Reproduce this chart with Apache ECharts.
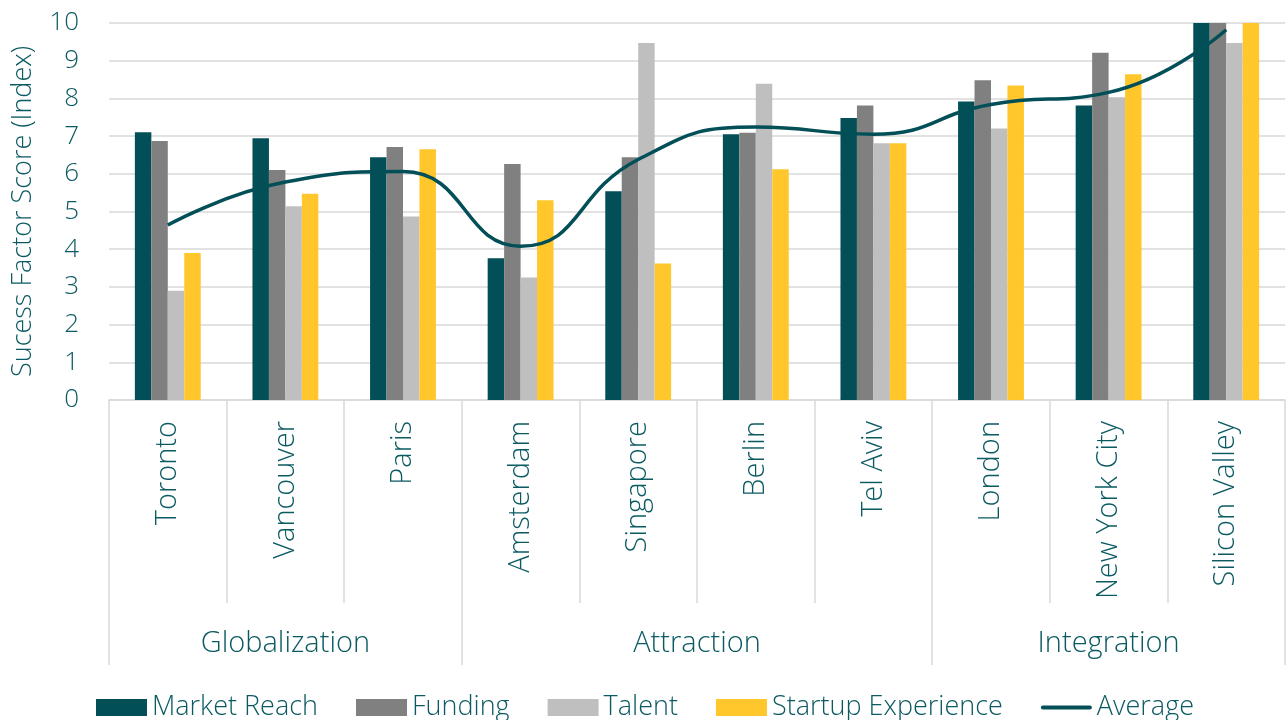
<!DOCTYPE html>
<html>
<head>
<meta charset="utf-8">
<script src="https://cdn.jsdelivr.net/npm/echarts@6/dist/echarts.min.js"></script>
<style>html,body{margin:0;padding:0;background:#fff;}#c{width:1287px;height:720px;}</style>
</head>
<body>
<div id="c"></div>
<script>
const cities = ['Toronto','Vancouver','Paris','Amsterdam','Singapore','Berlin','Tel Aviv','London','New York City','Silicon Valley'];
const groups = ['Globalization','Attraction','Integration'];
const groupSizes = [3,4,3];
const marketReach = [7.10, 6.94, 6.44, 3.76, 5.54, 7.05, 7.48, 7.92, 7.81, 10.0];
const funding     = [6.87, 6.10, 6.71, 6.26, 6.44, 7.09, 7.81, 8.48, 9.21, 10.0];
const talent      = [2.90, 5.14, 4.87, 3.25, 9.47, 8.39, 6.81, 7.20, 8.03, 9.47];
const startupExp  = [3.90, 5.47, 6.65, 5.30, 3.62, 6.12, 6.81, 8.34, 8.64, 10.0];
const average     = [4.64, 5.78, 6.06, 4.08, 6.38, 7.24, 7.05, 7.84, 8.16, 9.82];
const yTicks = [0,1,2,3,4,5,6,7,8,9,10];

const TEXT = '#0b5a62';
const GRID = '#d9d9d9';
const FONT = "'Open Sans', sans-serif";

// group boundaries and centres, in category units
const bounds = [0];
groupSizes.forEach(s => bounds.push(bounds[bounds.length-1] + s));
const centers = groups.map((g,i) => (bounds[i] + bounds[i+1]) / 2);

const chart = echarts.init(document.getElementById('c'), null, {renderer:'canvas'});
chart.setOption({
  animation: false,
  textStyle: {fontFamily: FONT},
  grid: {left: 109, right: 2, top: 23, bottom: 320, containLabel: false},
  legend: {
    left: 91, top: 689,
    itemWidth: 51, itemHeight: 17, itemGap: 38,
    textStyle: {fontSize: 27, color: TEXT, fontFamily: FONT, fontWeight: 300},
    data: [
      {name:'Market Reach', icon:'rect'},
      {name:'Funding', icon:'rect'},
      {name:'Talent', icon:'rect'},
      {name:'Startup Experience', icon:'rect'},
      {name:'Average', icon:'path://M2,0 H49 A2,2 0 0 1 49,4 H2 A2,2 0 0 1 2,0 Z'}
    ]
  },
  xAxis: [
    {
      type: 'category',
      data: cities,
      boundaryGap: true,
      axisLine: {show: true, lineStyle: {color: GRID, width: 1.5}},
      axisTick: {show: true, interval: 0, length: 203, lineStyle: {color: GRID, width: 1.5}},
      axisLabel: {interval: 0, rotate: 90, margin: 21, fontSize: 29, color: TEXT, fontFamily: FONT, fontWeight: 300}
    },
    {
      type: 'value',
      min: 0, max: cities.length,
      position: 'bottom',
      axisLine: {show: false},
      splitLine: {show: false},
      axisTick: {show: true, customValues: bounds, length: 265, lineStyle: {color: GRID, width: 1.5}},
      axisLabel: {
        customValues: centers, margin: 229, fontSize: 29, color: TEXT, fontFamily: FONT, fontWeight: 300,
        formatter: v => { const i = centers.findIndex(c => Math.abs(c - v) < 1e-6); return i >= 0 ? groups[i] : ''; }
      }
    }
  ],
  yAxis: {
    type: 'value',
    min: yTicks[0], max: yTicks[yTicks.length-1], interval: 1,
    name: 'Sucess Factor Score (Index)',
    nameLocation: 'middle', nameRotate: 90, nameGap: 72,
    nameTextStyle: {fontSize: 27, color: TEXT, fontFamily: FONT, fontWeight: 300},
    axisLine: {show: false},
    axisTick: {show: false},
    axisLabel: {fontSize: 26, color: TEXT, margin: 30, fontFamily: FONT, fontWeight: 300},
    splitLine: {lineStyle: {color: GRID, width: 1.5}}
  },
  series: [
    {name:'Market Reach', type:'bar', data: marketReach, barGap:'0%', barCategoryGap:'44%', itemStyle:{color:'#024f57'}},
    {name:'Funding', type:'bar', data: funding, itemStyle:{color:'#808080'}},
    {name:'Talent', type:'bar', data: talent, itemStyle:{color:'#bfbfbf'}},
    {name:'Startup Experience', type:'bar', data: startupExp, itemStyle:{color:'#ffc72c'}},
    {name:'Average', type:'line', data: average, smooth: 0.5, symbol:'none', z: 5,
      lineStyle:{color:'#024f57', width: 3.5}, itemStyle:{color:'#024f57'}}
  ]
});
</script>
</body>
</html>
